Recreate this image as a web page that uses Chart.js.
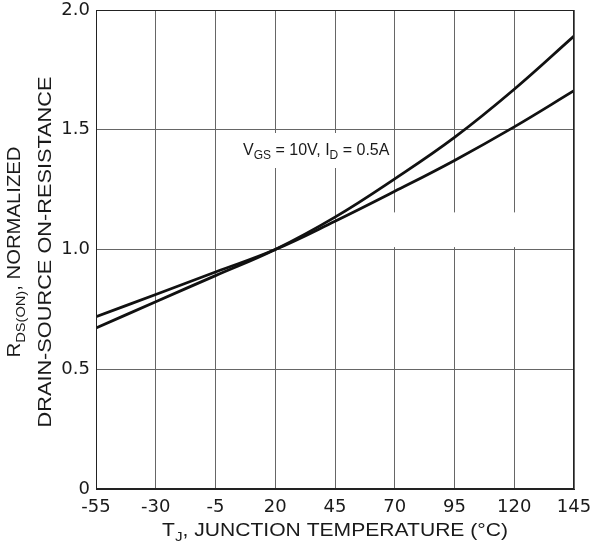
<!DOCTYPE html>
<html>
<head>
<meta charset="utf-8">
<script src="https://cdn.jsdelivr.net/npm/chart.js@4"></script>
<style>
  html, body { margin: 0; padding: 0; background: #fff; }
  #wrap { width: 592px; height: 541px; }
</style>
</head>
<body>
<div id="wrap"><canvas id="chart" width="592" height="541"></canvas></div>
<script>
// temperature points (°C)
const temps = [-55, -30, -5, 20, 45, 70, 95, 120, 145];
// steeper curve
const curveA = [0.672, 0.782, 0.891, 1.0, 1.135, 1.295, 1.468, 1.669, 1.891];
// flatter curve
const curveB = [0.719, 0.812, 0.906, 1.0, 1.118, 1.243, 1.372, 1.512, 1.663];
const xTicks = [-55, -30, -5, 20, 45, 70, 95, 120, 145];
const yTickLabels = { 0: '0', 0.5: '0.5', 1: '1.0', 1.5: '1.5', 2: '2.0' };

const FONT = '"Liberation Sans", Arial, sans-serif';
const TICK_FONT = '"DejaVu Sans", sans-serif';
const gridColor = '#666';

// measure text with subscript parts: parts = [[text, isSub], ...]
function measureRich(ctx, parts, size) {
    const subSize = Math.round(size * 0.72);
    let total = 0;
    parts.forEach(p => {
        ctx.font = (p[1] ? subSize : size) + 'px ' + FONT;
        total += ctx.measureText(p[0]).width;
    });
    return total;
}

// draw rich text centred on (x, y) baseline, stretched to a given width
function drawRich(ctx, parts, x, y, size, width) {
    const subSize = Math.round(size * 0.72);
    const total = measureRich(ctx, parts, size);
    const sx = width ? width / total : 1;
    ctx.save();
    ctx.translate(x, y);
    ctx.scale(sx, 1);
    let cx = width ? -total / 2 : 0;
    ctx.textAlign = 'left';
    ctx.textBaseline = 'alphabetic';
    parts.forEach(p => {
        ctx.font = (p[1] ? subSize : size) + 'px ' + FONT;
        ctx.fillText(p[0], cx, p[1] ? size * 0.28 : 0);
        cx += ctx.measureText(p[0]).width;
    });
    ctx.restore();
}

const decorations = {
    id: 'decorations',
    beforeDatasetsDraw(chart) {
        const ctx = chart.ctx;
        const xs = chart.scales.x, ys = chart.scales.y;
        ctx.save();
        ctx.fillStyle = '#fff';
        // white box behind the condition label
        ctx.fillRect(238, 133, 156, 35);
        // gap in the right-hand grid lines below the curves
        const x0 = xs.getPixelForValue(60), x1 = xs.getPixelForValue(144);
        const y0 = ys.getPixelForValue(1.155), y1 = ys.getPixelForValue(1.01);
        ctx.fillRect(x0, y0, x1 - x0, y1 - y0);
        ctx.restore();
    },
    afterDraw(chart) {
        const ctx = chart.ctx;
        const area = chart.chartArea;
        ctx.save();
        ctx.fillStyle = '#1a1a1a';
        // condition label
        drawRich(ctx, [['V', false], ['GS', true], [' = 10V, I', false], ['D', true], [' = 0.5A', false]], 243, 155, 16);
        // x axis title
        drawRich(ctx, [['T', false], ['J', true], [', JUNCTION TEMPERATURE (°C)', false]], 335, 536, 18, 346);
        // y axis title, two rotated lines
        ctx.save();
        ctx.translate(20, 252);
        ctx.rotate(-Math.PI / 2);
        drawRich(ctx, [['R', false], ['DS(ON)', true], [', NORMALIZED', false]], 0, 0, 18, 211);
        ctx.restore();
        ctx.save();
        ctx.translate(51, 252);
        ctx.rotate(-Math.PI / 2);
        drawRich(ctx, [['DRAIN-SOURCE ON-RESISTANCE', false]], 0, 0, 18, 351);
        ctx.restore();
        // frame
        ctx.strokeStyle = '#222';
        ctx.lineWidth = 1;
        ctx.strokeRect(area.left + 0.5, area.top + 0.5, area.right - area.left - 1, area.bottom - area.top - 1);
        ctx.restore();
    }
};

function toPoints(ys) {
    return temps.map((t, i) => ({ x: t, y: ys[i] }));
}

new Chart(document.getElementById('chart').getContext('2d'), {
    type: 'line',
    data: {
        datasets: [
            {
                data: toPoints(curveA),
                borderColor: '#111',
                borderWidth: 2.8,
                pointRadius: 0,
                tension: 0.4
            },
            {
                data: toPoints(curveB),
                borderColor: '#111',
                borderWidth: 2.8,
                pointRadius: 0,
                tension: 0.4
            }
        ]
    },
    options: {
        responsive: false,
        animation: false,
        events: [],
        layout: { padding: { top: 10, right: 18, left: 0, bottom: 0 } },
        plugins: { legend: { display: false }, tooltip: { enabled: false } },
        scales: {
            x: {
                type: 'linear',
                min: -55,
                max: 145,
                afterFit: s => { s.height = 52; s.paddingLeft = 0; s.paddingRight = 0; },
                afterBuildTicks: s => { s.ticks = xTicks.map(v => ({ value: v })); },
                grid: { color: gridColor, lineWidth: 1, drawTicks: false },
                border: { color: '#222' },
                ticks: {
                    padding: 8,
                    maxRotation: 0,
                    color: '#1a1a1a',
                    font: { family: TICK_FONT, size: 18 }
                }
            },
            y: {
                min: 0,
                max: 2,
                afterFit: s => { s.width = 96; s.paddingTop = 0; s.paddingBottom = 0; },
                grid: { color: gridColor, lineWidth: 1, drawTicks: false },
                border: { color: '#222' },
                ticks: {
                    stepSize: 0.5,
                    padding: 6,
                    color: '#1a1a1a',
                    font: { family: TICK_FONT, size: 18 },
                    callback: v => yTickLabels[v]
                }
            }
        }
    },
    plugins: [decorations]
});
</script>
</body>
</html>
